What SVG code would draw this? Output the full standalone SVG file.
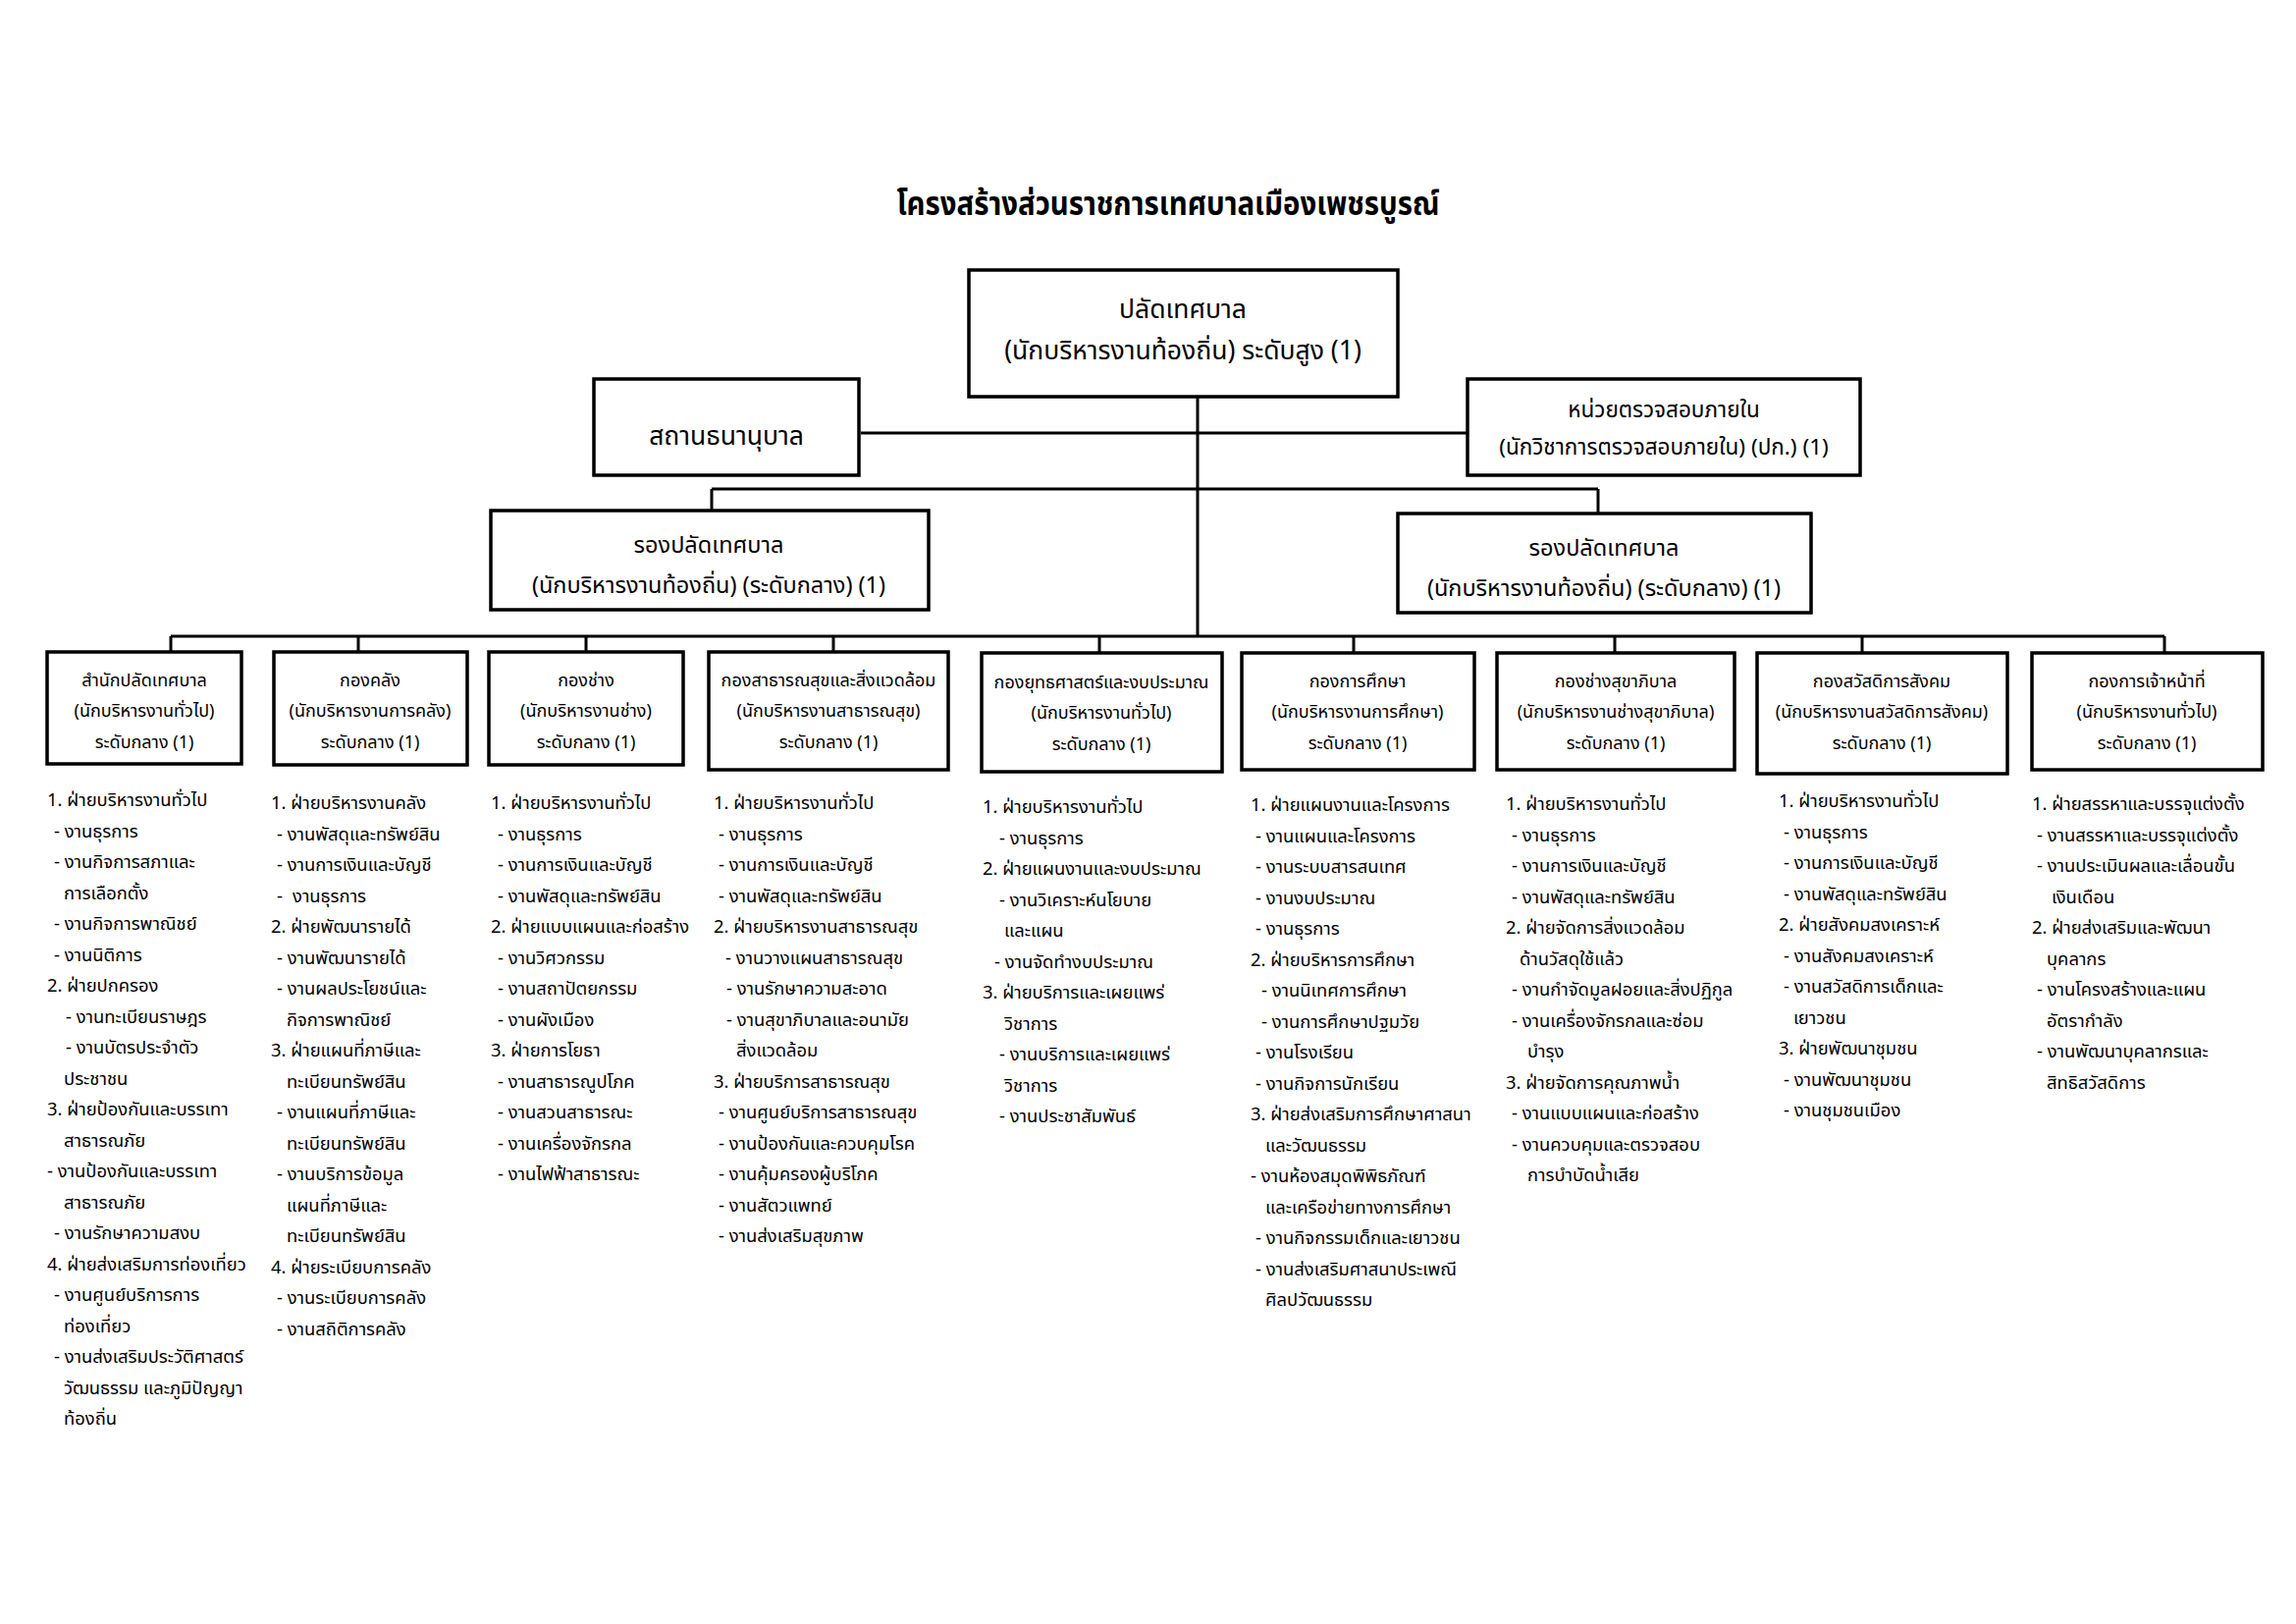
<svg xmlns="http://www.w3.org/2000/svg" width="2339" height="1654" viewBox="0 0 2339 1654">
<style>
text{font-family:"Noto Sans Thai","Noto Sans","DejaVu Sans",sans-serif;fill:#000}
.title{font-size:34px;font-weight:bold;text-anchor:middle}
.box{fill:#fff;stroke:#000;stroke-width:3.5}
.ln{stroke:#000;stroke-width:3;fill:none}
.big{font-size:26.5px;text-anchor:middle}
.mid{font-size:23.5px;text-anchor:middle}
.aud{font-size:22.5px;text-anchor:middle}
.bx{font-size:18px;text-anchor:middle}
.lst{font-size:18.4px}
</style>
<rect width="2339" height="1654" fill="#fff"/>
<text class="title" x="1190" y="219" textLength="553" lengthAdjust="spacingAndGlyphs">โครงสร้างส่วนราชการเทศบาลเมืองเพชรบูรณ์</text>
<g id="connectors">
<path class="ln" d="M1220 404V648M877 441H1495M725 498H1628M725 498V520M1628 498V523M174 648H2205M174 648V664M365 648V664M597 648V664M849 648V664M1120 648V664M1379 648V664M1645 648V664M1897 648V664M2205 648V664"/>
</g>
<g id="n-top"><rect class="box" x="987" y="275" width="437" height="129"/><text class="big" x="1205" y="324">ปลัดเทศบาล</text><text class="big" x="1205" y="366">(นักบริหารงานท้องถิ่น) ระดับสูง (1)</text></g>
<g id="n-pawn"><rect class="box" x="605" y="386" width="270" height="98"/><text class="big" x="740" y="453">สถานธนานุบาล</text></g>
<g id="n-audit"><rect class="box" x="1495" y="386" width="400" height="98"/><text class="aud" x="1695" y="425">หน่วยตรวจสอบภายใน</text><text class="aud" x="1695" y="463">(นักวิชาการตรวจสอบภายใน) (ปก.) (1)</text></g>
<g id="n-dep1"><rect class="box" x="500" y="520" width="446" height="101"/><text class="mid" x="722" y="563">รองปลัดเทศบาล</text><text class="mid" x="722" y="604">(นักบริหารงานท้องถิ่น) (ระดับกลาง) (1)</text></g>
<g id="n-dep2"><rect class="box" x="1424" y="523" width="421" height="101"/><text class="mid" x="1634" y="566">รองปลัดเทศบาล</text><text class="mid" x="1634" y="607">(นักบริหารงานท้องถิ่น) (ระดับกลาง) (1)</text></g>
<g id="d1"><rect class="box" x="48" y="664" width="198" height="114"/><text class="bx" x="147" y="699">สำนักปลัดเทศบาล</text><text class="bx" x="147" y="730">(นักบริหารงานทั่วไป)</text><text class="bx" x="147" y="762">ระดับกลาง (1)</text></g>
<g id="d2"><rect class="box" x="279" y="664" width="197" height="115"/><text class="bx" x="377" y="699">กองคลัง</text><text class="bx" x="377" y="730">(นักบริหารงานการคลัง)</text><text class="bx" x="377" y="762">ระดับกลาง (1)</text></g>
<g id="d3"><rect class="box" x="498" y="664" width="198" height="115"/><text class="bx" x="597" y="699">กองช่าง</text><text class="bx" x="597" y="730">(นักบริหารงานช่าง)</text><text class="bx" x="597" y="762">ระดับกลาง (1)</text></g>
<g id="d4"><rect class="box" x="722" y="664" width="244" height="120"/><text class="bx" x="844" y="699">กองสาธารณสุขและสิ่งแวดล้อม</text><text class="bx" x="844" y="730">(นักบริหารงานสาธารณสุข)</text><text class="bx" x="844" y="762">ระดับกลาง (1)</text></g>
<g id="d5"><rect class="box" x="1000" y="665" width="245" height="121"/><text class="bx" x="1122" y="701">กองยุทธศาสตร์และงบประมาณ</text><text class="bx" x="1122" y="732">(นักบริหารงานทั่วไป)</text><text class="bx" x="1122" y="764">ระดับกลาง (1)</text></g>
<g id="d6"><rect class="box" x="1265" y="665" width="237" height="119"/><text class="bx" x="1383" y="700">กองการศึกษา</text><text class="bx" x="1383" y="731">(นักบริหารงานการศึกษา)</text><text class="bx" x="1383" y="763">ระดับกลาง (1)</text></g>
<g id="d7"><rect class="box" x="1525" y="665" width="242" height="119"/><text class="bx" x="1646" y="700">กองช่างสุขาภิบาล</text><text class="bx" x="1646" y="731">(นักบริหารงานช่างสุขาภิบาล)</text><text class="bx" x="1646" y="763">ระดับกลาง (1)</text></g>
<g id="d8"><rect class="box" x="1790" y="665" width="255" height="123"/><text class="bx" x="1917" y="700">กองสวัสดิการสังคม</text><text class="bx" x="1917" y="731">(นักบริหารงานสวัสดิการสังคม)</text><text class="bx" x="1917" y="763">ระดับกลาง (1)</text></g>
<g id="d9"><rect class="box" x="2070" y="665" width="235" height="119"/><text class="bx" x="2187" y="700">กองการเจ้าหน้าที่</text><text class="bx" x="2187" y="731">(นักบริหารงานทั่วไป)</text><text class="bx" x="2187" y="763">ระดับกลาง (1)</text></g>
<g id="list1">
<text class="lst"><tspan x="48" y="821">1. ฝ่ายบริหารงานทั่วไป</tspan><tspan x="55" y="852.5">- งานธุรการ</tspan><tspan x="55" y="884">- งานกิจการสภาและ</tspan><tspan x="65" y="915.5">การเลือกตั้ง</tspan><tspan x="55" y="947">- งานกิจการพาณิชย์</tspan><tspan x="55" y="978.5">- งานนิติการ</tspan><tspan x="48" y="1010">2. ฝ่ายปกครอง</tspan><tspan x="67" y="1041.5">- งานทะเบียนราษฎร</tspan><tspan x="67" y="1073">- งานบัตรประจำตัว</tspan><tspan x="65" y="1104.5">ประชาชน</tspan><tspan x="48" y="1136">3. ฝ่ายป้องกันและบรรเทา</tspan><tspan x="65" y="1167.5">สาธารณภัย</tspan><tspan x="48" y="1199">- งานป้องกันและบรรเทา</tspan><tspan x="65" y="1230.5">สาธารณภัย</tspan><tspan x="55" y="1262">- งานรักษาความสงบ</tspan><tspan x="48" y="1293.5">4. ฝ่ายส่งเสริมการท่องเที่ยว</tspan><tspan x="55" y="1325">- งานศูนย์บริการการ</tspan><tspan x="65" y="1356.5">ท่องเที่ยว</tspan><tspan x="55" y="1388">- งานส่งเสริมประวัติศาสตร์</tspan><tspan x="65" y="1419.5">วัฒนธรรม และภูมิปัญญา</tspan><tspan x="65" y="1451">ท้องถิ่น</tspan></text>
</g>
<g id="list2">
<text class="lst"><tspan x="276" y="824">1. ฝ่ายบริหารงานคลัง</tspan><tspan x="282" y="855.5">- งานพัสดุและทรัพย์สิน</tspan><tspan x="282" y="887">- งานการเงินและบัญชี</tspan><tspan x="282" y="918.5">-</tspan><tspan x="298" y="918.5">งานธุรการ</tspan><tspan x="276" y="950">2. ฝ่ายพัฒนารายได้</tspan><tspan x="282" y="981.5">- งานพัฒนารายได้</tspan><tspan x="282" y="1013">- งานผลประโยชน์และ</tspan><tspan x="292" y="1044.5">กิจการพาณิชย์</tspan><tspan x="276" y="1076">3. ฝ่ายแผนที่ภาษีและ</tspan><tspan x="292" y="1107.5">ทะเบียนทรัพย์สิน</tspan><tspan x="282" y="1139">- งานแผนที่ภาษีและ</tspan><tspan x="292" y="1170.5">ทะเบียนทรัพย์สิน</tspan><tspan x="282" y="1202">- งานบริการข้อมูล</tspan><tspan x="292" y="1233.5">แผนที่ภาษีและ</tspan><tspan x="292" y="1265">ทะเบียนทรัพย์สิน</tspan><tspan x="276" y="1296.5">4. ฝ่ายระเบียบการคลัง</tspan><tspan x="282" y="1328">- งานระเบียบการคลัง</tspan><tspan x="282" y="1359.5">- งานสถิติการคลัง</tspan></text>
</g>
<g id="list3">
<text class="lst"><tspan x="500" y="824">1. ฝ่ายบริหารงานทั่วไป</tspan><tspan x="507" y="855.5">- งานธุรการ</tspan><tspan x="507" y="887">- งานการเงินและบัญชี</tspan><tspan x="507" y="918.5">- งานพัสดุและทรัพย์สิน</tspan><tspan x="500" y="950">2. ฝ่ายแบบแผนและก่อสร้าง</tspan><tspan x="507" y="981.5">- งานวิศวกรรม</tspan><tspan x="507" y="1013">- งานสถาปัตยกรรม</tspan><tspan x="507" y="1044.5">- งานผังเมือง</tspan><tspan x="500" y="1076">3. ฝ่ายการโยธา</tspan><tspan x="507" y="1107.5">- งานสาธารณูปโภค</tspan><tspan x="507" y="1139">- งานสวนสาธารณะ</tspan><tspan x="507" y="1170.5">- งานเครื่องจักรกล</tspan><tspan x="507" y="1202">- งานไฟฟ้าสาธารณะ</tspan></text>
</g>
<g id="list4">
<text class="lst"><tspan x="727" y="824">1. ฝ่ายบริหารงานทั่วไป</tspan><tspan x="732" y="855.5">- งานธุรการ</tspan><tspan x="732" y="887">- งานการเงินและบัญชี</tspan><tspan x="732" y="918.5">- งานพัสดุและทรัพย์สิน</tspan><tspan x="727" y="950">2. ฝ่ายบริหารงานสาธารณสุข</tspan><tspan x="739" y="981.5">- งานวางแผนสาธารณสุข</tspan><tspan x="740" y="1013">- งานรักษาความสะอาด</tspan><tspan x="740" y="1044.5">- งานสุขาภิบาลและอนามัย</tspan><tspan x="750" y="1076">สิ่งแวดล้อม</tspan><tspan x="727" y="1107.5">3. ฝ่ายบริการสาธารณสุข</tspan><tspan x="732" y="1139">- งานศูนย์บริการสาธารณสุข</tspan><tspan x="732" y="1170.5">- งานป้องกันและควบคุมโรค</tspan><tspan x="732" y="1202">- งานคุ้มครองผู้บริโภค</tspan><tspan x="732" y="1233.5">- งานสัตวแพทย์</tspan><tspan x="732" y="1265">- งานส่งเสริมสุขภาพ</tspan></text>
</g>
<g id="list5">
<text class="lst"><tspan x="1001" y="828">1. ฝ่ายบริหารงานทั่วไป</tspan><tspan x="1018" y="859.5">- งานธุรการ</tspan><tspan x="1001" y="891">2. ฝ่ายแผนงานและงบประมาณ</tspan><tspan x="1018" y="922.5">- งานวิเคราะห์นโยบาย</tspan><tspan x="1023" y="954">และแผน</tspan><tspan x="1013" y="985.5">- งานจัดทำงบประมาณ</tspan><tspan x="1001" y="1017">3. ฝ่ายบริการและเผยแพร่</tspan><tspan x="1023" y="1048.5">วิชาการ</tspan><tspan x="1018" y="1080">- งานบริการและเผยแพร่</tspan><tspan x="1023" y="1111.5">วิชาการ</tspan><tspan x="1018" y="1143">- งานประชาสัมพันธ์</tspan></text>
</g>
<g id="list6">
<text class="lst"><tspan x="1274" y="826">1. ฝ่ายแผนงานและโครงการ</tspan><tspan x="1279" y="857.5">- งานแผนและโครงการ</tspan><tspan x="1279" y="889">- งานระบบสารสนเทศ</tspan><tspan x="1279" y="920.5">- งานงบประมาณ</tspan><tspan x="1279" y="952">- งานธุรการ</tspan><tspan x="1274" y="983.5">2. ฝ่ายบริหารการศึกษา</tspan><tspan x="1285" y="1015">- งานนิเทศการศึกษา</tspan><tspan x="1285" y="1046.5">- งานการศึกษาปฐมวัย</tspan><tspan x="1279" y="1078">- งานโรงเรียน</tspan><tspan x="1279" y="1109.5">- งานกิจการนักเรียน</tspan><tspan x="1274" y="1141">3. ฝ่ายส่งเสริมการศึกษาศาสนา</tspan><tspan x="1289" y="1172.5">และวัฒนธรรม</tspan><tspan x="1274" y="1204">- งานห้องสมุดพิพิธภัณฑ์</tspan><tspan x="1289" y="1235.5">และเครือข่ายทางการศึกษา</tspan><tspan x="1279" y="1267">- งานกิจกรรมเด็กและเยาวชน</tspan><tspan x="1279" y="1298.5">- งานส่งเสริมศาสนาประเพณี</tspan><tspan x="1289" y="1330">ศิลปวัฒนธรรม</tspan></text>
</g>
<g id="list7">
<text class="lst"><tspan x="1534" y="825">1. ฝ่ายบริหารงานทั่วไป</tspan><tspan x="1540" y="856.5">- งานธุรการ</tspan><tspan x="1540" y="888">- งานการเงินและบัญชี</tspan><tspan x="1540" y="919.5">- งานพัสดุและทรัพย์สิน</tspan><tspan x="1534" y="951">2. ฝ่ายจัดการสิ่งแวดล้อม</tspan><tspan x="1548" y="982.5">ด้านวัสดุใช้แล้ว</tspan><tspan x="1540" y="1014">- งานกำจัดมูลฝอยและสิ่งปฏิกูล</tspan><tspan x="1540" y="1045.5">- งานเครื่องจักรกลและซ่อม</tspan><tspan x="1556" y="1077">บำรุง</tspan><tspan x="1534" y="1108.5">3. ฝ่ายจัดการคุณภาพน้ำ</tspan><tspan x="1540" y="1140">- งานแบบแผนและก่อสร้าง</tspan><tspan x="1540" y="1171.5">- งานควบคุมและตรวจสอบ</tspan><tspan x="1556" y="1203">การบำบัดน้ำเสีย</tspan></text>
</g>
<g id="list8">
<text class="lst"><tspan x="1812" y="822">1. ฝ่ายบริหารงานทั่วไป</tspan><tspan x="1817" y="853.5">- งานธุรการ</tspan><tspan x="1817" y="885">- งานการเงินและบัญชี</tspan><tspan x="1817" y="916.5">- งานพัสดุและทรัพย์สิน</tspan><tspan x="1812" y="948">2. ฝ่ายสังคมสงเคราะห์</tspan><tspan x="1817" y="979.5">- งานสังคมสงเคราะห์</tspan><tspan x="1817" y="1011">- งานสวัสดิการเด็กและ</tspan><tspan x="1827" y="1042.5">เยาวชน</tspan><tspan x="1812" y="1074">3. ฝ่ายพัฒนาชุมชน</tspan><tspan x="1817" y="1105.5">- งานพัฒนาชุมชน</tspan><tspan x="1817" y="1137">- งานชุมชนเมือง</tspan></text>
</g>
<g id="list9">
<text class="lst"><tspan x="2070" y="825">1. ฝ่ายสรรหาและบรรจุแต่งตั้ง</tspan><tspan x="2075" y="856.5">- งานสรรหาและบรรจุแต่งตั้ง</tspan><tspan x="2075" y="888">- งานประเมินผลและเลื่อนขั้น</tspan><tspan x="2090" y="919.5">เงินเดือน</tspan><tspan x="2070" y="951">2. ฝ่ายส่งเสริมและพัฒนา</tspan><tspan x="2085" y="982.5">บุคลากร</tspan><tspan x="2075" y="1014">- งานโครงสร้างและแผน</tspan><tspan x="2085" y="1045.5">อัตรากำลัง</tspan><tspan x="2075" y="1077">- งานพัฒนาบุคลากรและ</tspan><tspan x="2085" y="1108.5">สิทธิสวัสดิการ</tspan></text>
</g>
</svg>
